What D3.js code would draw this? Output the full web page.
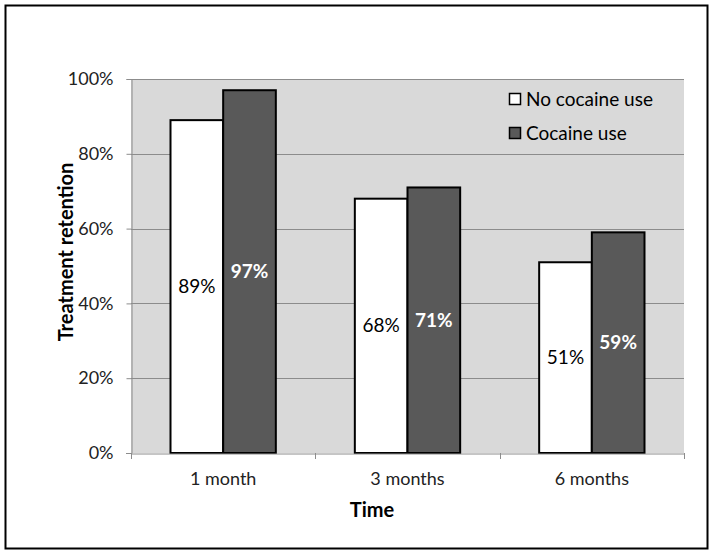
<!DOCTYPE html>
<html><head><meta charset="utf-8">
<script src="https://cdn.jsdelivr.net/npm/d3@7"></script>
<style>body{margin:0;background:#fff;} svg{display:block;}</style>
</head><body>
<svg id="c" width="713" height="555"></svg>
<script>
const categories = ["1 month", "3 months", "6 months"];
const seriesNames = ["No cocaine use", "Cocaine use"];
const noCocaine = [89, 68, 51];
const cocaine = [97, 71, 59];
const yTicks = [0, 20, 40, 60, 80, 100];
const colors = ["#ffffff", "#595959"];
const labelColors = ["#000000", "#ffffff"];
const labelWeights = ["normal", "bold"];

const font = "Lato, 'Open Sans', sans-serif";
const svg = d3.select("#c");
const m = {left: 131, right: 684, top: 79, bottom: 453};

svg.append("rect").attr("x", 5.5).attr("y", 5.5).attr("width", 702).attr("height", 543)
  .attr("fill", "#fff").attr("stroke", "#000").attr("stroke-width", 2);

const x = d3.scaleBand().domain(categories).range([m.left, m.right]).paddingInner(0).paddingOuter(0);
const y = d3.scaleLinear().domain([0, 100]).range([m.bottom, m.top]);
const xs = d3.scaleBand().domain(seriesNames).range([0, x.bandwidth()]).paddingInner(0).paddingOuter(0.75);

svg.append("rect").attr("x", m.left).attr("y", m.top).attr("width", m.right - m.left).attr("height", m.bottom - m.top).attr("fill", "#d9d9d9");

// gridlines
svg.append("g").selectAll("line").data(yTicks.filter(d => d > 0)).join("line")
  .attr("x1", m.left).attr("x2", m.right).attr("y1", d => Math.round(y(d)) + 0.5).attr("y2", d => Math.round(y(d)) + 0.5)
  .attr("stroke", "#8c8c8c").attr("stroke-width", 1);

// y axis
const yAxis = d3.axisLeft(y).tickValues(yTicks).tickFormat(d => d + "%").tickSize(5).tickPadding(13);
const ga = svg.append("g").attr("transform", `translate(${m.left + 0.5},0)`).call(yAxis);
ga.select(".domain").attr("stroke", "#8c8c8c");
ga.selectAll(".tick line").attr("stroke", "#8c8c8c");
ga.selectAll("text").attr("font-family", font).attr("font-size", 18).attr("fill", "#222");

// bars
const seriesVals = [noCocaine, cocaine];
const groups = svg.append("g").selectAll("g").data(categories).join("g")
  .attr("transform", d => `translate(${x(d)},0)`);
seriesNames.forEach((s, si) => {
  groups.append("rect")
    .attr("x", (d, i) => xs(s))
    .attr("y", (d, i) => y(seriesVals[si][i]))
    .attr("width", xs.bandwidth())
    .attr("height", (d, i) => y(0) - y(seriesVals[si][i]))
    .attr("fill", colors[si]).attr("stroke", "#000").attr("stroke-width", 2);
});
seriesNames.forEach((s, si) => {
  groups.append("text")
    .attr("x", (d, i) => xs(s) + xs.bandwidth() / 2)
    .attr("y", (d, i) => (y(seriesVals[si][i]) + y(0)) / 2)
    .attr("dy", "0.35em").attr("text-anchor", "middle")
    .attr("font-family", font).attr("font-size", 19).attr("font-weight", labelWeights[si])
    .attr("fill", labelColors[si])
    .text((d, i) => seriesVals[si][i] + "%");
});

// x axis
const xAxis = d3.axisBottom(x).tickSize(0).tickPadding(19);
const gx = svg.append("g").attr("transform", `translate(0,${m.bottom + 0.5})`).call(xAxis);
gx.select(".domain").attr("stroke", "#8c8c8c");
gx.selectAll("text").attr("font-family", font).attr("font-size", 18).attr("fill", "#222");
const bounds = categories.map(c => x(c)).concat([m.right]);
svg.append("g").selectAll("line").data(bounds).join("line")
  .attr("x1", d => Math.round(d) + 0.5).attr("x2", d => Math.round(d) + 0.5)
  .attr("y1", m.bottom).attr("y2", m.bottom + 6).attr("stroke", "#8c8c8c");
svg.append("line").attr("x1", m.left - 5).attr("x2", m.left).attr("y1", m.bottom + 0.5).attr("y2", m.bottom + 0.5).attr("stroke", "#8c8c8c");

// axis titles
svg.append("text").attr("x", 372).attr("y", 517).attr("text-anchor", "middle")
  .attr("font-family", font).attr("font-size", 20).attr("font-weight", "bold").text("Time");
svg.append("text").attr("transform", `translate(73,${(m.top + m.bottom) / 2 - 14}) rotate(-90)`).attr("text-anchor", "middle")
  .attr("font-family", font).attr("font-size", 20).attr("font-weight", "bold").text("Treatment retention");

// legend
const lg = svg.append("g").attr("transform", "translate(509,93)");
seriesNames.forEach((s, i) => {
  lg.append("rect").attr("x", 0.5).attr("y", i * 34 + 0.5).attr("width", 11).attr("height", 11)
    .attr("fill", colors[i]).attr("stroke", "#000").attr("stroke-width", 1.5);
  lg.append("text").attr("x", 17).attr("y", i * 34 + 6).attr("dy", "0.35em")
    .attr("font-family", font).attr("font-size", 19).attr("fill", "#000").text(s);
});
</script>
</body></html>
